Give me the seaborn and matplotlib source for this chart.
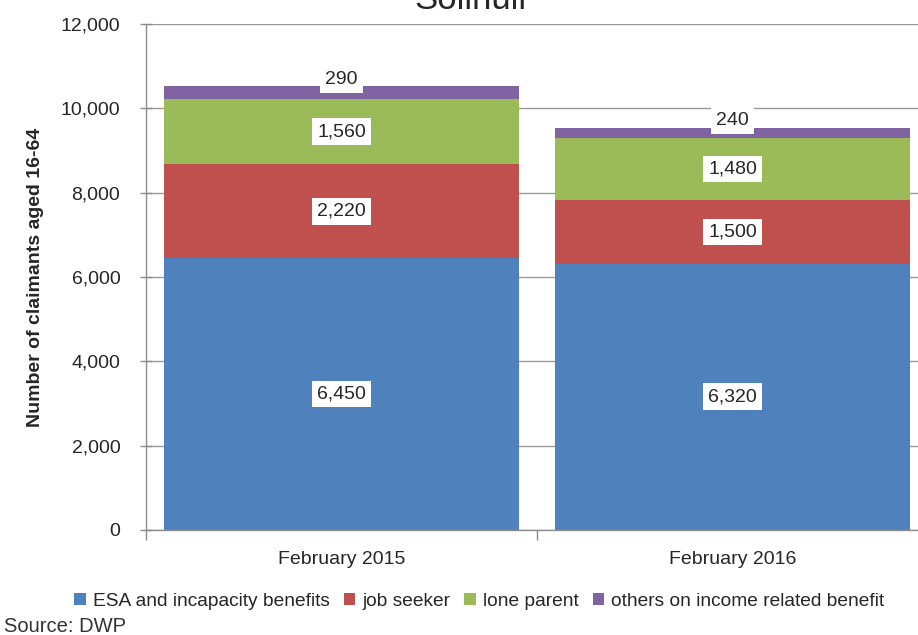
import matplotlib
matplotlib.use("Agg")
import matplotlib.pyplot as plt
import seaborn as sns
import pandas as pd
import numpy as np
from matplotlib.patches import Patch
from matplotlib.ticker import FuncFormatter, FixedLocator

# Claimant counts by benefit group, Solihull
periods = ["February 2015", "February 2016"]
series_names = ["ESA and incapacity benefits", "job seeker", "lone parent",
                "others on income related benefit"]
esa = [6450, 6320]
job_seeker = [2220, 1500]
lone_parent = [1560, 1480]
others = [290, 240]
colors = ["#4F81BD", "#C0504D", "#9BBB59", "#8064A2"]

sns.set_theme(style="white")
plt.rcParams["font.family"] = ["Liberation Sans", "DejaVu Sans"]

layers = [esa, job_seeker, lone_parent, others]
rows = []
for name, vals in zip(series_names, layers):
    for p, v in zip(periods, vals):
        rows.append({"period": p, "series": name, "value": v})
df = pd.DataFrame(rows)
df["top"] = df.groupby("period")["value"].cumsum()
df["bottom"] = df["top"] - df["value"]

fig = plt.figure(figsize=(9.18, 6.35), dpi=100)
ax = fig.add_axes([146 / 918, 105 / 635, 782 / 918, 506 / 635])

# stacked bars: draw cumulative tops from the highest layer down
for name, col in reversed(list(zip(series_names, colors))):
    sub = df[df["series"] == name]
    sns.barplot(data=sub, x="period", y="top", order=periods, color=col,
                saturation=1, width=0.91, linewidth=0, ax=ax, zorder=2)

ax.set_xlim(-0.5, 1.5)
ax.set_ylim(0, 12000)
ax.set_yticks(np.arange(0, 12001, 2000))
ax.yaxis.set_major_formatter(FuncFormatter(lambda v, _: f"{int(v):,}"))
ax.grid(axis="y", color="#9A9A9A", linewidth=1.0, zorder=0)
ax.set_axisbelow(True)

for s in ["top", "right"]:
    ax.spines[s].set_visible(False)
for s in ["left", "bottom"]:
    ax.spines[s].set_color("#8C8C8C")
    ax.spines[s].set_linewidth(1.0)

ax.tick_params(axis="y", direction="inout", length=9, width=1, color="#8C8C8C",
               labelsize=14, pad=14, left=True)
ax.set_xticks([0, 1])
ax.set_xticklabels(periods, fontsize=14)
ax.tick_params(axis="x", length=0, pad=15)
ax.xaxis.set_minor_locator(FixedLocator([-0.5, 0.5, 1.5]))
ax.tick_params(axis="x", which="minor", direction="out", length=7, width=1,
               color="#8C8C8C", bottom=True)

ax.set_xlabel("")
ax.set_ylabel("Number of claimants aged 16-64", fontsize=14, fontweight="bold",
              labelpad=12)

box = dict(boxstyle="square,pad=0.25", facecolor="white", edgecolor="none")
for _, r in df.iterrows():
    xi = periods.index(r["period"])
    label = f"{int(r['value']):,}"
    if r["series"] == series_names[-1]:
        ax.annotate(label, (xi, r["top"]), xytext=(0, 5), textcoords="offset points",
                    ha="center", va="center", fontsize=14, bbox=box, zorder=5)
    else:
        ax.text(xi, (r["bottom"] + r["top"]) / 2, label, ha="center", va="center",
                fontsize=14, bbox=box, zorder=5)

handles = [Patch(facecolor=c, edgecolor="none") for c in colors]
fig.legend(handles, series_names, loc="center", bbox_to_anchor=(0.522, 0.053),
           ncol=4, frameon=False, fontsize=13.8, handlelength=0.6, handleheight=0.6,
           handletextpad=0.35, columnspacing=0.75)

fig.text(0.004, 0.004, "Source: DWP", fontsize=14.5, ha="left", va="baseline",
         color="#333333")
fig.text(0.512, 0.986, "Solihull", fontsize=25, ha="center", va="baseline")

fig.savefig("out.png", dpi=100)
